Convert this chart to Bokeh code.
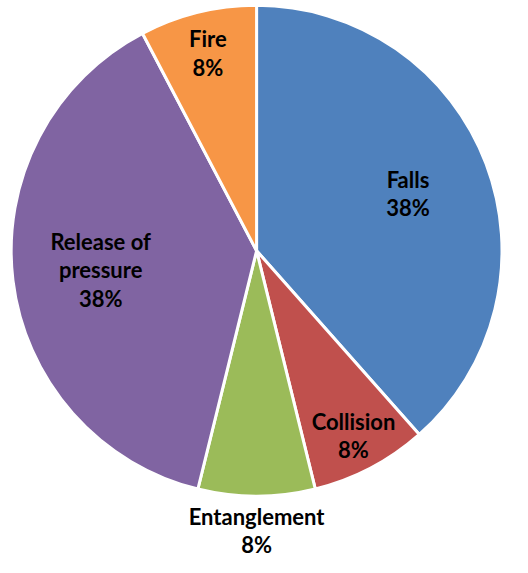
import math
from bokeh.plotting import figure
from bokeh.models import ColumnDataSource, Range1d
from bokeh.core.properties import value
from bokeh.embed import file_html
from bokeh.resources import INLINE

# ---- data ----
categories = ["Falls", "Collision", "Entanglement", "Release of\npressure", "Fire"]
counts = [5, 1, 1, 5, 1]
colors = ["#4F81BD", "#C0504D", "#9BBB59", "#8064A2", "#F79646"]

# ---- layout helpers (not data) ----
label_radius_factor = [0.66, 0.85, 1.14, 0.64, 0.83]
W, H = 512, 557
s = 0.97
cx, cy, R = 264 * s, -258 * s, 253 * s   # plot-pixel coordinates (y negative downward)

total = sum(counts)
starts, ends, lx, ly, labels = [], [], [], [], []
a = math.pi / 2
for cat, c, f in zip(categories, counts, label_radius_factor):
    sweep = 2 * math.pi * c / total
    e = a - sweep
    starts.append(e)
    ends.append(a)
    mid = (a + e) / 2
    lx.append(cx + f * R * math.cos(mid))
    ly.append(cy + f * R * math.sin(mid))
    labels.append(f"{cat}\n{round(100 * c / total)}%")
    a = e

src = ColumnDataSource(dict(start=starts, end=ends, color=colors,
                            lx=lx, ly=ly, label=labels))

p = figure(width=W, height=H, output_backend="svg", toolbar_location=None,
           x_range=Range1d(0, W), y_range=Range1d(-H, 0),
           min_border=0, min_border_left=0, min_border_right=0,
           min_border_top=0, min_border_bottom=0)
p.axis.visible = False
p.grid.visible = False
p.outline_line_color = None
p.background_fill_color = "white"

p.wedge(x=cx, y=cy, radius=R, start_angle="start", end_angle="end",
        fill_color="color", line_color="white", line_width=3, source=src)

p.text(x="lx", y="ly", text="label", source=src, text_align="center",
       text_baseline="middle", text_font=value("Lato"),
       text_font_style="bold", text_font_size="22px", text_color="black",
       text_line_height=1.06)

open("out.html", "w").write(file_html(p, INLINE))
